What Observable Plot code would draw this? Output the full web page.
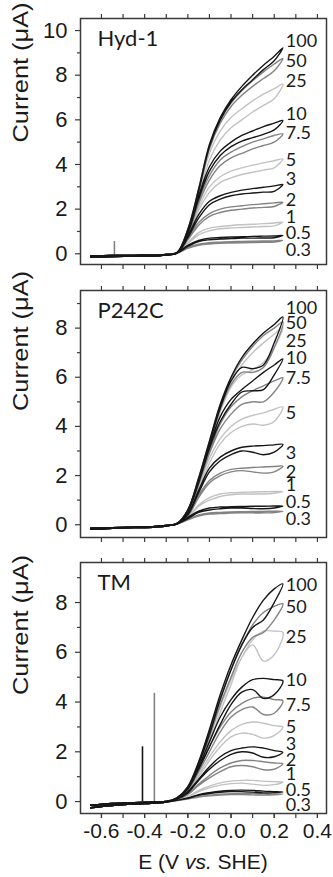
<!DOCTYPE html>
<html><head><meta charset="utf-8">
<script src="https://cdn.jsdelivr.net/npm/d3@7"></script>
<script src="https://cdn.jsdelivr.net/npm/@observablehq/plot@0.6"></script>
<style>
body{margin:0;background:#fff;}
#wrap{position:relative;width:333px;height:877px;overflow:hidden;background:#fff;font-family:"Liberation Sans",Arial,sans-serif;color:#1a1a1a;}
.panel{position:absolute;left:0;}
#xlabel{position:absolute;left:80px;width:246px;top:851px;text-align:center;font-size:21px;line-height:21px;white-space:nowrap;}
</style></head>
<body><div id="wrap"><div id="xlabel">E (V <i>vs.</i> SHE)</div></div>
<script>
// ---------- data ----------
const conc = ["100","50","25","10","7.5","5","3","2","1","0.5","0.3"];
const shades = ["#161616","#838383","#c2c2c2"];          // black, dark gray, light gray (cycling)
const baseE = [-0.65,-0.55,-0.45,-0.35,-0.3];             // baseline potentials
const riseE = [-0.25,-0.2,-0.15,-0.1,-0.05,0,0.05,0.1,0.15,0.2,0.24]; // catalytic region
const xMajor = [-0.6,-0.4,-0.2,0.0,0.2,0.4];
const xMinor = [-0.6,-0.5,-0.4,-0.3,-0.2,-0.1,0,0.1,0.2,0.3,0.4];

// Hyd-1
const hydBase = [-0.15,-0.12,-0.11,-0.09,-0.06];
const hydBaseRev = [-0.1,-0.08,-0.07,-0.06,-0.03];
const hydFwd = [
 [0.05,1.1,2.9,4.9,6.1,6.9,7.5,8.0,8.45,8.85,9.22],
 [0.05,1.1,2.9,4.85,6.0,6.75,7.3,7.75,8.15,8.5,8.75],
 [0.05,1.05,2.8,4.5,5.5,6.1,6.5,6.85,7.15,7.4,7.6],
 [0.05,1.0,2.6,3.9,4.6,5.0,5.3,5.5,5.7,5.85,5.97],
 [0.05,0.95,2.4,3.5,4.2,4.55,4.8,5.0,5.15,5.3,5.37],
 [0.05,0.9,2.1,3.0,3.45,3.7,3.85,3.97,4.07,4.17,4.25],
 [0.05,0.8,1.75,2.35,2.6,2.75,2.85,2.92,2.98,3.04,3.1],
 [0.05,0.7,1.4,1.8,2.0,2.1,2.15,2.2,2.24,2.28,2.31],
 [0.05,0.5,0.95,1.15,1.22,1.27,1.3,1.32,1.35,1.38,1.42],
 [0.05,0.38,0.6,0.7,0.73,0.75,0.76,0.78,0.79,0.8,0.82],
 [0.05,0.28,0.43,0.5,0.52,0.54,0.55,0.56,0.57,0.58,0.6]];
const hydRev = [
 [0.03,1.0,2.8,4.8,6.0,6.8,7.35,7.8,8.25,8.65],
 [0.03,1.0,2.8,4.7,5.85,6.6,7.1,7.5,7.85,8.2],
 [0.03,0.95,2.6,4.2,5.1,5.65,6.0,6.35,6.65,6.95],
 [0.03,0.9,2.45,3.7,4.4,4.8,5.05,5.2,5.35,5.55],
 [0.03,0.85,2.25,3.3,3.95,4.3,4.5,4.7,4.85,5.0],
 [0.03,0.8,1.95,2.75,3.2,3.4,3.55,3.65,3.75,3.85],
 [0.03,0.72,1.6,2.2,2.45,2.6,2.68,2.72,2.76,2.8],
 [0.03,0.62,1.28,1.68,1.85,1.95,2.0,2.05,2.08,2.12],
 [0.03,0.45,0.85,1.03,1.12,1.16,1.18,1.2,1.22,1.25],
 [0.03,0.33,0.55,0.63,0.66,0.68,0.7,0.7,0.71,0.72],
 [0.03,0.24,0.38,0.44,0.47,0.48,0.49,0.5,0.51,0.52]];
const hydLabelY = [9.52,8.62,7.75,6.24,5.4,4.21,3.32,2.38,1.64,0.9,0.15];
const hydSpikes = [{E:-0.54, lo:-0.1, hi:0.55, s:1}];

// P242C
const pBase = [-0.18,-0.15,-0.12,-0.09,-0.05];
const pBaseRev = [-0.14,-0.12,-0.1,-0.07,-0.03];
const pFwd = [
 [0.05,0.6,1.9,3.4,4.9,6.0,6.8,7.35,7.8,8.15,8.45],
 [0.05,0.6,1.9,3.4,4.85,5.95,6.7,7.25,7.7,8.0,8.25],
 [0.05,0.6,1.85,3.3,4.75,5.8,6.5,7.0,7.4,7.75,8.05],
 [0.05,0.6,1.8,3.2,4.4,5.1,5.5,5.85,6.2,6.5,6.75],
 [0.05,0.55,1.75,3.0,4.1,4.8,5.2,5.45,5.65,5.85,5.98],
 [0.05,0.5,1.6,2.7,3.5,4.0,4.3,4.45,4.55,4.7,4.79],
 [0.05,0.45,1.4,2.3,2.75,3.0,3.15,3.2,3.22,3.25,3.27],
 [0.05,0.4,1.2,1.8,2.1,2.25,2.3,2.33,2.35,2.37,2.38],
 [0.05,0.3,0.8,1.1,1.25,1.3,1.32,1.33,1.34,1.35,1.35],
 [0.05,0.3,0.55,0.68,0.72,0.73,0.74,0.75,0.75,0.76,0.76],
 [0.05,0.22,0.4,0.48,0.5,0.52,0.53,0.54,0.54,0.55,0.55]];
const pRev = [
 [0.03,0.55,1.8,3.3,4.75,5.85,6.4,6.35,6.5,7.4],
 [0.03,0.55,1.8,3.3,4.7,5.7,6.2,6.2,6.4,7.2],
 [0.03,0.55,1.75,3.2,4.6,5.6,6.1,6.3,6.6,7.2],
 [0.03,0.55,1.7,3.1,4.2,4.9,5.4,5.45,5.5,6.1],
 [0.03,0.5,1.65,2.9,3.9,4.5,4.9,5.0,5.0,5.4],
 [0.03,0.45,1.5,2.5,3.3,3.75,4.0,4.1,4.05,4.2],
 [0.03,0.4,1.3,2.15,2.6,2.85,3.0,2.95,2.85,2.95],
 [0.03,0.35,1.1,1.7,2.0,2.15,2.2,2.15,2.1,2.15],
 [0.03,0.28,0.75,1.0,1.15,1.22,1.25,1.25,1.25,1.28],
 [0.03,0.25,0.5,0.6,0.65,0.68,0.68,0.66,0.65,0.68],
 [0.03,0.2,0.35,0.43,0.45,0.47,0.48,0.48,0.48,0.5]];
const pLabelY = [8.79,8.2,7.47,6.79,5.98,4.54,2.89,2.14,1.6,0.92,0.24];

// TM
const tBase = [-0.25,-0.16,-0.1,-0.06,-0.02];
const tBaseRev = [-0.15,-0.08,-0.05,-0.02,0.0];
const tFwd = [
 [0.15,0.6,1.6,2.9,4.3,5.5,6.5,7.4,8.1,8.55,8.75],
 [0.15,0.6,1.55,2.8,4.1,5.3,6.3,7.1,7.6,7.85,7.95],
 [0.15,0.55,1.45,2.6,3.8,4.9,5.8,6.5,6.85,6.85,6.8],
 [0.15,0.55,1.4,2.4,3.4,4.1,4.6,4.9,4.95,4.9,4.85],
 [0.12,0.5,1.3,2.2,3.0,3.6,3.95,4.15,4.2,4.1,4.05],
 [0.1,0.45,1.1,1.8,2.4,2.85,3.1,3.2,3.15,3.05,2.99],
 [0.1,0.4,0.9,1.4,1.8,2.05,2.15,2.2,2.15,2.05,1.98],
 [0.08,0.3,0.7,1.05,1.35,1.55,1.65,1.65,1.6,1.55,1.52],
 [0.06,0.2,0.45,0.62,0.75,0.82,0.85,0.85,0.82,0.8,0.78],
 [0.05,0.15,0.28,0.36,0.42,0.45,0.46,0.45,0.42,0.4,0.38],
 [0.04,0.12,0.2,0.26,0.3,0.32,0.33,0.33,0.32,0.31,0.3]];
const tRev = [
 [0.15,0.55,1.5,2.7,4.1,5.3,6.3,7.0,7.3,8.0],
 [0.15,0.55,1.45,2.6,3.9,5.0,6.0,6.6,6.8,7.3],
 [0.15,0.5,1.35,2.4,3.6,4.7,5.8,6.3,5.65,5.9],
 [0.12,0.5,1.3,2.2,3.1,3.9,4.4,4.5,4.15,4.3],
 [0.12,0.45,1.2,2.0,2.8,3.4,3.7,3.8,3.5,3.55],
 [0.1,0.4,1.0,1.65,2.2,2.6,2.75,2.7,2.55,2.65],
 [0.1,0.35,0.85,1.3,1.65,1.9,2.0,1.95,1.78,1.8],
 [0.08,0.28,0.65,0.95,1.2,1.4,1.45,1.4,1.28,1.3],
 [0.06,0.18,0.4,0.55,0.66,0.72,0.74,0.7,0.65,0.68],
 [0.05,0.13,0.25,0.32,0.37,0.4,0.4,0.38,0.35,0.36],
 [0.04,0.1,0.18,0.23,0.26,0.28,0.28,0.27,0.26,0.27]];
const tLabelY = [8.68,7.81,6.6,4.86,3.86,2.99,2.32,1.65,1.11,0.44,-0.16];
const tSpikes = [{E:-0.41, lo:-0.05, hi:2.2, s:0},{E:-0.355, lo:-0.05, hi:4.35, s:1}];

// ---------- drawing ----------
const XDOM = [-0.697, 0.442];
const YTITLE = "Current (μA)";
function buildRows(base, baseRev, fwd, rev){
  const rows = [];
  conc.forEach((c,i)=>{
    const col = shades[i % 3];
    baseE.forEach((e,j)=>rows.push({E:e, I:base[j], k:c, col}));
    riseE.forEach((e,j)=>rows.push({E:e, I:fwd[i][j], k:c, col}));
    for(let j=rev[i].length-1;j>=0;j--) rows.push({E:riseE[j], I:rev[i][j], k:c, col});
    for(let j=baseE.length-1;j>=0;j--) rows.push({E:baseE[j], I:baseRev[j], k:c, col});
  });
  return rows;
}
function panel(o){
  const rows = buildRows(o.base, o.baseRev, o.fwd, o.rev);
  const order = [2,1,0]; // draw light first, black last
  const sorted = order.flatMap(s => rows.filter(r => r.col === shades[s]));
  const labels = conc.map((c,i)=>({c, E: riseE[riseE.length-1], y: o.labelY[i]}));
  const ymax = Math.floor(o.yDomain[1]);
  const yMaj = d3.range(0, ymax+1, 2), yMin = d3.range(1, ymax+1, 2);
  const marks = [
    Plot.frame({stroke:"#3a3a3a", strokeWidth:1.5}),
    Plot.axisY(yMaj, {anchor:"left", tickSize:5, tickPadding:8, fontSize:22, label:null, stroke:"#3a3a3a", strokeWidth:1.2}),
    Plot.axisY(yMin, {anchor:"left", tickSize:3, tickFormat:()=>"", label:null, stroke:"#3a3a3a", strokeWidth:1.2}),
    Plot.axisX(xMinor, {anchor:"top", tickSize:5, tickFormat:()=>"", label:null, stroke:"#3a3a3a", strokeWidth:1.2}),
    Plot.axisX(xMinor, {anchor:"bottom", tickSize:5, tickFormat:()=>"", label:null, stroke:"#3a3a3a", strokeWidth:1.2}),
    Plot.ruleX(o.spikes || [], {x:"E", y1:"lo", y2:"hi", stroke:d=>shades[d.s], strokeWidth:1.6}),
    Plot.line(sorted, {x:"E", y:"I", z:"k", stroke:"col", strokeWidth:1.4, curve:"catmull-rom"}),
    Plot.text(labels, {x:"E", y:"y", text:"c", textAnchor:"start", dx:3, fontSize:18, fontFamily:"Lato", fill:"#1a1a1a"}),
    Plot.text([o.name], {frameAnchor:"top-left", dx:17, dy:12, lineAnchor:"top", fontSize:22, fontFamily:"Lato", fill:"#1a1a1a"}),
    Plot.text([YTITLE], {frameAnchor:"left", rotate:-90, dx:-60, dy:o.titleDy, fontSize:22, fill:"#1a1a1a"})
  ];
  if (o.showX) marks.push(Plot.axisX(xMajor, {anchor:"bottom", tickSize:5, tickPadding:5, fontSize:21, tickFormat:d=>d.toFixed(1), label:null, stroke:"#3a3a3a", strokeWidth:1.2}));
  const svg = Plot.plot({
    width:333, height:o.height,
    marginLeft:80, marginRight:7, marginTop:o.mt, marginBottom:o.mb,
    x:{domain:XDOM}, y:{domain:o.yDomain},
    color:{type:"identity"},
    style:{fontFamily:"'Liberation Sans', Arial, sans-serif", color:"#1a1a1a", background:"transparent", overflow:"visible"},
    marks
  });
  // stretch the rotated axis title to the reference's length
  svg.querySelectorAll("text").forEach(t => {
    if (t.textContent === YTITLE) { t.setAttribute("textLength", 140); t.setAttribute("lengthAdjust", "spacingAndGlyphs"); }
  });
  svg.classList.add("panel");
  svg.style.top = o.top + "px";
  document.getElementById("wrap").appendChild(svg);
}
panel({name:"Hyd-1", base:hydBase, baseRev:hydBaseRev, fwd:hydFwd, rev:hydRev, labelY:hydLabelY, spikes:hydSpikes,
  yDomain:[-0.48,10.54], top:0, height:280, mt:18, mb:16, titleDy:1});
panel({name:"P242C", base:pBase, baseRev:pBaseRev, fwd:pFwd, rev:pRev, labelY:pLabelY,
  yDomain:[-0.52,9.53], top:280, height:270, mt:10, mb:13, titleDy:-3});
panel({name:"TM", base:tBase, baseRev:tBaseRev, fwd:tFwd, rev:tRev, labelY:tLabelY, spikes:tSpikes,
  yDomain:[-0.48,9.61], top:550, height:300, mt:12, mb:37, titleDy:7, showX:true});
</script></body></html>
